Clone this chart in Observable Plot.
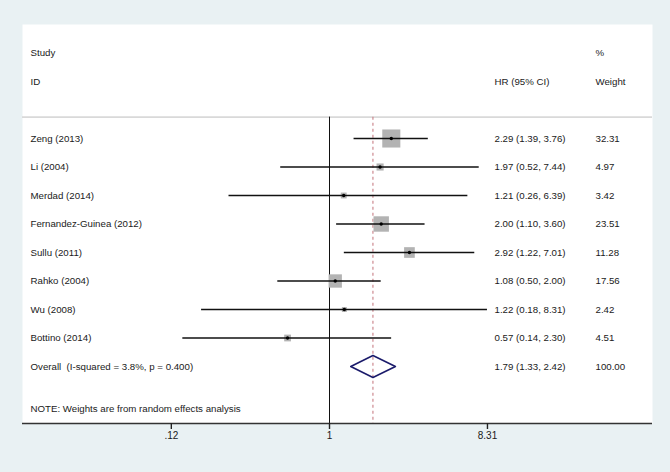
<!DOCTYPE html>
<html>
<head>
<meta charset="utf-8">
<script src="https://cdn.jsdelivr.net/npm/d3@7"></script>
<script src="https://cdn.jsdelivr.net/npm/@observablehq/plot@0.6"></script>
<style>
  html, body { margin: 0; padding: 0; background: #e9f1f3; }
  #chart svg { display: block; }
</style>
</head>
<body>
<div id="chart"></div>
<script>
// ---- data ----
const studies = ["Zeng (2013)", "Li (2004)", "Merdad (2014)", "Fernandez-Guinea (2012)", "Sullu (2011)", "Rahko (2004)", "Wu (2008)", "Bottino (2014)"];
const hr = [2.29, 1.97, 1.21, 2.00, 2.92, 1.08, 1.22, 0.57];
const lower = [1.39, 0.52, 0.26, 1.10, 1.22, 0.50, 0.18, 0.14];
const upper = [3.76, 7.44, 6.39, 3.60, 7.01, 2.00, 8.31, 2.30];
const weights = [32.31, 4.97, 3.42, 23.51, 11.28, 17.56, 2.42, 4.51];
const overallLabel = "Overall\u00a0 (I-squared = 3.8%, p = 0.400)";
const overallHR = 1.79, overallLo = 1.33, overallHi = 2.42, overallWeight = 100.00;
const noteText = "NOTE: Weights are from random effects analysis";
const tickValues = [0.12, 1, 8.31];
const tickLabels = [".12", "1", "8.31"];

// ---- derived table ----
const rows = studies.map((s, i) => ({
  study: s, hr: hr[i], lo: lower[i], hi: upper[i], w: weights[i], row: i,
  ci: `${hr[i].toFixed(2)} (${lower[i].toFixed(2)}, ${upper[i].toFixed(2)})`,
  wt: weights[i].toFixed(2)
}));
const ticks = tickValues.map((v, i) => ({v, label: tickLabels[i]}));
const overallRow = studies.length;        // row index of the overall line
const noteRow = overallRow + 1.5;
const axisRow = overallRow + 2;
const headerRow1 = -3, headerRow2 = -2, sepRow = -0.75, topRow = -4;
const dh = 0.385; // diamond half-height in row units
const diamond = [
  {x: overallLo, y: overallRow},
  {x: overallHR, y: overallRow - dh},
  {x: overallHi, y: overallRow},
  {x: overallHR, y: overallRow + dh},
  {x: overallLo, y: overallRow}
];
const overallText = [{
  label: overallLabel, row: overallRow,
  ci: `${overallHR.toFixed(2)} (${overallLo.toFixed(2)}, ${overallHi.toFixed(2)})`,
  wt: overallWeight.toFixed(2)
}];

const font = "Liberation Sans, Arial, sans-serif";
const fs = 9.7;
const textColor = "#1a1a1a";

const W = 670, H = 472;
const mL = 22, mR = 18, mT = 24, mB = 49;
// log scale, 74.6 px per ln unit, with 1 at x=329
const pxPerLn = 74.6, x1px = 329;
const xDomain = [Math.exp((mL - x1px) / pxPerLn), Math.exp((W - mR - x1px) / pxPerLn)];

const colDx = {study: 8, ci: 472, wt: 573};

const chart = Plot.plot({
  width: W, height: H,
  marginLeft: mL, marginRight: mR, marginTop: mT, marginBottom: mB,
  style: {background: "#e9f1f3", fontFamily: font, fontSize: fs + "px", color: textColor},
  x: {type: "log", domain: xDomain, axis: null},
  y: {type: "linear", domain: [topRow, axisRow], reverse: true, axis: null},
  r: {type: "sqrt", domain: [0, d3.max(weights)], range: [0, 10.2]},
  marks: [
    Plot.frame({fill: "white", stroke: null}),
    // separator line under header
    Plot.ruleY([sepRow], {stroke: "#d9d9d9", strokeWidth: 1.6}),
    // null line at 1
    Plot.ruleX([1], {y1: sepRow, y2: axisRow, stroke: "#111", strokeWidth: 1}),
    // overall estimate dashed
    Plot.ruleX([overallHR], {y1: sepRow, y2: axisRow, stroke: "#c97f86", strokeWidth: 1.1, strokeDasharray: "3,3"}),
    // weight squares
    Plot.dot(rows, {x: "hr", y: "row", r: "w", symbol: "square", fill: "#b3b3b3", stroke: null}),
    // CIs
    Plot.ruleY(rows, {x1: "lo", x2: "hi", y: "row", stroke: "#111", strokeWidth: 1.7}),
    // point estimates
    Plot.dot(rows, {x: "hr", y: "row", r: 1.7, fill: "#000", stroke: null}),
    // overall diamond
    Plot.line(diamond, {x: "x", y: "y", stroke: "#1b1b6b", strokeWidth: 1.6, curve: "linear"}),
    // axis line, ticks and labels (the x axis mark draws the tick marks)
    Plot.ruleY([axisRow], {stroke: "#333", strokeWidth: 1.3}),
    Plot.axisX(tickValues, {anchor: "bottom", tickSize: 6, tickPadding: 5, stroke: "#222", strokeWidth: 1.4,
                 tickFormat: (d) => tickLabels[tickValues.indexOf(d)] ?? "", fill: "none", label: null}),
    Plot.text(ticks, {x: "v", text: "label", frameAnchor: "bottom", dy: 15, fontSize: 10, fill: textColor}),
    // header texts
    Plot.text(["Study"], {y: [headerRow1], frameAnchor: "left", dx: colDx.study, text: d => d, textAnchor: "start", fill: textColor}),
    Plot.text(["ID"], {y: [headerRow2], frameAnchor: "left", dx: colDx.study, text: d => d, textAnchor: "start", fill: textColor}),
    Plot.text(["HR (95% CI)"], {y: [headerRow2], frameAnchor: "left", dx: colDx.ci, text: d => d, textAnchor: "start", fill: textColor}),
    Plot.text(["%"], {y: [headerRow1], frameAnchor: "left", dx: colDx.wt, text: d => d, textAnchor: "start", fill: textColor}),
    Plot.text(["Weight"], {y: [headerRow2], frameAnchor: "left", dx: colDx.wt, text: d => d, textAnchor: "start", fill: textColor}),
    // study rows
    Plot.text(rows, {y: "row", frameAnchor: "left", dx: colDx.study, text: "study", textAnchor: "start", fill: textColor}),
    Plot.text(rows, {y: "row", frameAnchor: "left", dx: colDx.ci, text: "ci", textAnchor: "start", fill: textColor}),
    Plot.text(rows, {y: "row", frameAnchor: "left", dx: colDx.wt, text: "wt", textAnchor: "start", fill: textColor}),
    // overall row
    Plot.text(overallText, {y: "row", frameAnchor: "left", dx: colDx.study, text: "label", textAnchor: "start", fill: textColor}),
    Plot.text(overallText, {y: "row", frameAnchor: "left", dx: colDx.ci, text: "ci", textAnchor: "start", fill: textColor}),
    Plot.text(overallText, {y: "row", frameAnchor: "left", dx: colDx.wt, text: "wt", textAnchor: "start", fill: textColor}),
    // note
    Plot.text([noteText], {y: [noteRow], frameAnchor: "left", dx: colDx.study, text: d => d, textAnchor: "start", fill: textColor})
  ]
});
document.getElementById("chart").appendChild(chart);
</script>
</body>
</html>
